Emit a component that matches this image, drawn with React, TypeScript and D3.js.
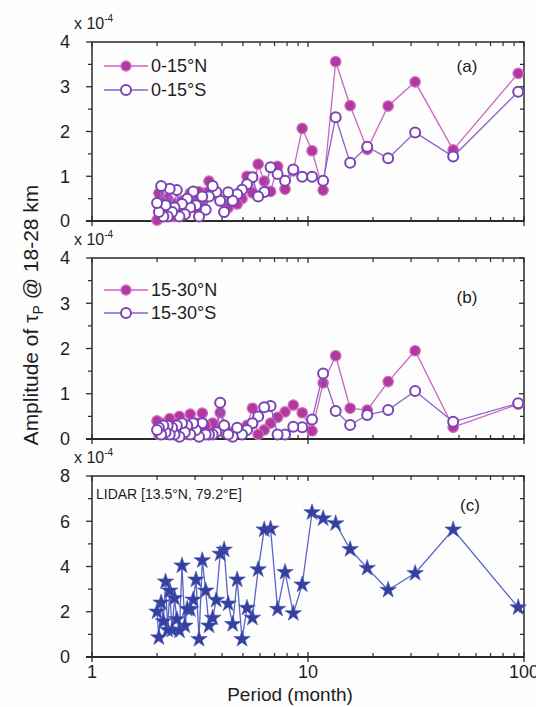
import React from 'react';
import * as d3 from 'd3';

// Periods (months) of the spectral components
const periods = [94, 47, 31.33, 23.5, 18.8, 15.67, 13.43, 11.75, 10.44, 9.4, 8.55, 7.83, 7.23, 6.71, 6.27, 5.88, 5.53, 5.22, 4.95, 4.7, 4.48, 4.27, 4.09, 3.92, 3.76, 3.62, 3.48, 3.36, 3.24, 3.13, 3.03, 2.94, 2.85, 2.76, 2.69, 2.61, 2.54, 2.47, 2.41, 2.35, 2.29, 2.24, 2.19, 2.14, 2.09, 2.04, 2.0];

// Panel (a) amplitudes, x 10^-4
const a0to15N = [3.3, 1.59, 3.11, 2.57, 1.6, 2.58, 3.56, 0.69, 1.57, 2.07, 1.12, 0.71, 1.22, 0.66, 0.89, 1.27, 0.63, 1.0, 0.5, 0.38, 0.55, 0.3, 0.2, 0.45, 0.6, 0.72, 0.89, 0.63, 0.45, 0.65, 0.3, 0.55, 0.62, 0.35, 0.15, 0.45, 0.2, 0.35, 0.1, 0.4, 0.25, 0.5, 0.3, 0.2, 0.45, 0.62, 0.02];
const a0to15S = [2.89, 1.44, 1.98, 1.4, 1.66, 1.3, 2.32, 0.9, 0.99, 0.99, 1.15, 0.9, 1.05, 1.2, 0.65, 0.55, 0.98, 0.82, 0.7, 0.6, 0.45, 0.64, 0.2, 0.45, 0.65, 0.78, 0.55, 0.25, 0.55, 0.1, 0.35, 0.66, 0.3, 0.5, 0.15, 0.38, 0.1, 0.69, 0.3, 0.2, 0.72, 0.1, 0.35, 0.1, 0.78, 0.2, 0.4];

// Panel (b)
const b15to30N = [0.77, 0.26, 1.95, 1.27, 0.64, 0.68, 1.84, 1.24, 0.18, 0.58, 0.75, 0.6, 0.48, 0.35, 0.2, 0.1, 0.68, 0.3, 0.15, 0.2, 0.1, 0.15, 0.3, 0.58, 0.2, 0.35, 0.1, 0.3, 0.57, 0.15, 0.35, 0.2, 0.55, 0.1, 0.3, 0.15, 0.5, 0.2, 0.35, 0.1, 0.45, 0.15, 0.3, 0.1, 0.35, 0.1, 0.4];
const b15to30S = [0.79, 0.38, 1.06, 0.64, 0.53, 0.31, 0.62, 1.45, 0.43, 0.26, 0.27, 0.1, 0.1, 0.73, 0.7, 0.5, 0.35, 0.2, 0.1, 0.25, 0.05, 0.1, 0.3, 0.8, 0.15, 0.1, 0.1, 0.1, 0.35, 0.05, 0.2, 0.35, 0.1, 0.3, 0.15, 0.35, 0.05, 0.3, 0.1, 0.25, 0.1, 0.3, 0.15, 0.3, 0.1, 0.25, 0.2];

// Panel (c) LIDAR
const lidar = [2.19, 5.63, 3.7, 2.96, 3.93, 4.76, 5.9, 6.12, 6.39, 3.2, 1.93, 3.75, 2.12, 5.67, 5.63, 3.87, 1.73, 2.17, 0.79, 3.42, 1.45, 2.36, 4.74, 4.56, 2.52, 1.73, 1.38, 2.93, 4.27, 0.79, 3.42, 2.53, 2.1, 2.12, 1.38, 4.04, 1.16, 1.67, 2.6, 1.2, 2.93, 1.2, 3.33, 1.57, 2.4, 0.86, 2.0];

const xTickLabels = [1, 10, 100];
const yTicksAB = [0, 1, 2, 3, 4];
const yMinorAB = [0.5, 1.5, 2.5, 3.5];
const yTicksC = [0, 2, 4, 6, 8];
const yMinorC = [1, 3, 5, 7];

const FONT = '"Liberation Sans", Arial, Helvetica, sans-serif';
const W = 536, H = 707;
const X0 = 92, X1 = 524;
const x = d3.scaleLog().domain([1, 100]).range([X0, X1]);
const xMinor: number[] = [];
[1, 10].forEach((d) => { for (let k = 2; k <= 9; k++) xMinor.push(d * k); });

const N_FILL = '#b2379f';
const N_EDGE = '#cc70be';
const N_LINE = '#cc66bc';
const S_EDGE = '#7a44b4';
const S_LINE = '#8c62c8';
const L_FILL = '#33409e';
const L_LINE = '#5866c4';
const AX = '#2b2b2b';
const TXT = '#1e1e1e';

function Frame({ top, bottom, max, major, minor, showX }: any) {
  const y = d3.scaleLinear().domain([0, max]).range([bottom, top]);
  return (
    <g>
      <rect x={X0} y={top} width={X1 - X0} height={bottom - top} fill="none" stroke={AX} strokeWidth={1.5} />
      <line x1={X0 - 6} x2={X1} y1={bottom} y2={bottom} stroke={AX} strokeWidth={2} />
      {major.map((v: number) => (
        <g key={'ym' + v}>
          <line x1={X0 - 6} x2={X0} y1={y(v)} y2={y(v)} stroke={AX} strokeWidth={1.3} />
          <line x1={X1 - 5} x2={X1} y1={y(v)} y2={y(v)} stroke={AX} strokeWidth={1.3} />
          <text x={70} y={y(v)} dy="0.36em" textAnchor="end" fontSize={18} fontFamily={FONT} fill={TXT}>{v}</text>
        </g>
      ))}
      {minor.map((v: number) => (
        <g key={'yn' + v}>
          <line x1={X0 - 4} x2={X0} y1={y(v)} y2={y(v)} stroke={AX} strokeWidth={1.2} />
          <line x1={X1 - 4} x2={X1} y1={y(v)} y2={y(v)} stroke={AX} strokeWidth={1.2} />
        </g>
      ))}
      {xMinor.map((v) => (
        <g key={'xn' + v}>
          <line x1={x(v)} x2={x(v)} y1={bottom} y2={bottom - 4} stroke={AX} strokeWidth={1.2} />
          <line x1={x(v)} x2={x(v)} y1={top} y2={top + 4} stroke={AX} strokeWidth={1.2} />
        </g>
      ))}
      {xTickLabels.map((v) => (
        <g key={'xm' + v}>
          <line x1={x(v)} x2={x(v)} y1={bottom + 5} y2={bottom - 5} stroke={AX} strokeWidth={1.3} />
          <line x1={x(v)} x2={x(v)} y1={top} y2={top + 5} stroke={AX} strokeWidth={1.3} />
          {showX && (
            <text x={x(v)} y={bottom + 21} textAnchor="middle" fontSize={18} fontFamily={FONT} fill={TXT}>{v}</text>
          )}
        </g>
      ))}
      <text x={74} y={top - 13} fontSize={16} fontFamily={FONT} fill={TXT}>
        x 10<tspan dy={-7} fontSize={10}>-4</tspan>
      </text>
    </g>
  );
}

function CircleSeries({ vals, y, filled }: any) {
  const line = d3.line<number>().x((_, i) => x(periods[i])).y((d) => y(d));
  return (
    <g>
      <path d={line(vals) || ''} fill="none" stroke={filled ? N_LINE : S_LINE} strokeWidth={1.3} />
      {vals.map((v: number, i: number) => (
        <circle key={i} cx={x(periods[i])} cy={y(v)} r={filled ? 5.2 : 5}
          fill={filled ? N_FILL : '#fff'} stroke={filled ? N_EDGE : S_EDGE} strokeWidth={filled ? 1.3 : 2} />
      ))}
    </g>
  );
}

function Legend({ yy, label, filled }: any) {
  return (
    <g>
      <line x1={104} x2={148} y1={yy} y2={yy} stroke={filled ? N_LINE : S_LINE} strokeWidth={1.3} />
      <circle cx={126} cy={yy} r={5} fill={filled ? N_FILL : '#fff'} stroke={filled ? N_EDGE : S_EDGE} strokeWidth={filled ? 1.3 : 2} />
      <text x={151} y={yy} dy="0.36em" fontSize={18} fontFamily={FONT} fill={TXT}>{label}</text>
    </g>
  );
}

export default function App() {
  const aTop = 42, aBot = 221;
  const bTop = 258, bBot = 439;
  const cTop = 476, cBot = 657;
  const ya = d3.scaleLinear().domain([0, 4]).range([aBot, aTop]);
  const yb = d3.scaleLinear().domain([0, 4]).range([bBot, bTop]);
  const yc = d3.scaleLinear().domain([0, 8]).range([cBot, cTop]);
  const star = d3.symbol().type(d3.symbolStar).size(85);
  const lline = d3.line<number>().x((_, i) => x(periods[i])).y((d) => yc(d));

  return (
    <svg width={W} height={H} style={{ position: 'absolute', left: 0, top: 0, background: '#fff' }}>
      <rect width={W} height={H} fill="#fdfdfd" />
      {/* Panel a */}
      <Frame top={aTop} bottom={aBot} max={4} major={yTicksAB} minor={yMinorAB} showX={false} />
      <CircleSeries vals={a0to15N} y={ya} filled={true} />
      <CircleSeries vals={a0to15S} y={ya} filled={false} />
      <Legend yy={66} label="0-15°N" filled={true} />
      <Legend yy={90} label="0-15°S" filled={false} />
      <text x={467} y={66} dy="0.36em" textAnchor="middle" fontSize={17} fontFamily={FONT} fill={TXT}>(a)</text>

      {/* Panel b */}
      <Frame top={bTop} bottom={bBot} max={4} major={yTicksAB} minor={yMinorAB} showX={false} />
      <CircleSeries vals={b15to30N} y={yb} filled={true} />
      <CircleSeries vals={b15to30S} y={yb} filled={false} />
      <Legend yy={290} label="15-30°N" filled={true} />
      <Legend yy={313} label="15-30°S" filled={false} />
      <text x={467} y={297} dy="0.36em" textAnchor="middle" fontSize={17} fontFamily={FONT} fill={TXT}>(b)</text>

      {/* Panel c */}
      <Frame top={cTop} bottom={cBot} max={8} major={yTicksC} minor={yMinorC} showX={true} />
      <path d={lline(lidar) || ''} fill="none" stroke={L_LINE} strokeWidth={1.3} />
      {lidar.map((v, i) => (
        <path key={i} d={star() || ''} transform={`translate(${x(periods[i])},${yc(v)})`} fill={L_FILL} stroke="#4a58b8" strokeWidth={0.6} />
      ))}
      <text x={96} y={494} dy="0.36em" fontSize={14} fontFamily={FONT} fill={TXT}>LIDAR [13.5°N, 79.2°E]</text>
      <text x={470} y={505} dy="0.36em" textAnchor="middle" fontSize={17} fontFamily={FONT} fill={TXT}>(c)</text>

      {/* Axis titles */}
      <text transform="translate(38,315) rotate(-90)" textAnchor="middle" fontSize={21} fontFamily={FONT} fill={TXT}>
        Amplitude of τ<tspan dy={5} fontSize={14}>P</tspan><tspan dy={-5}> @ 18-28 km</tspan>
      </text>
      <text x={290} y={701} textAnchor="middle" fontSize={19} fontFamily={FONT} fill={TXT}>Period (month)</text>
    </svg>
  );
}
